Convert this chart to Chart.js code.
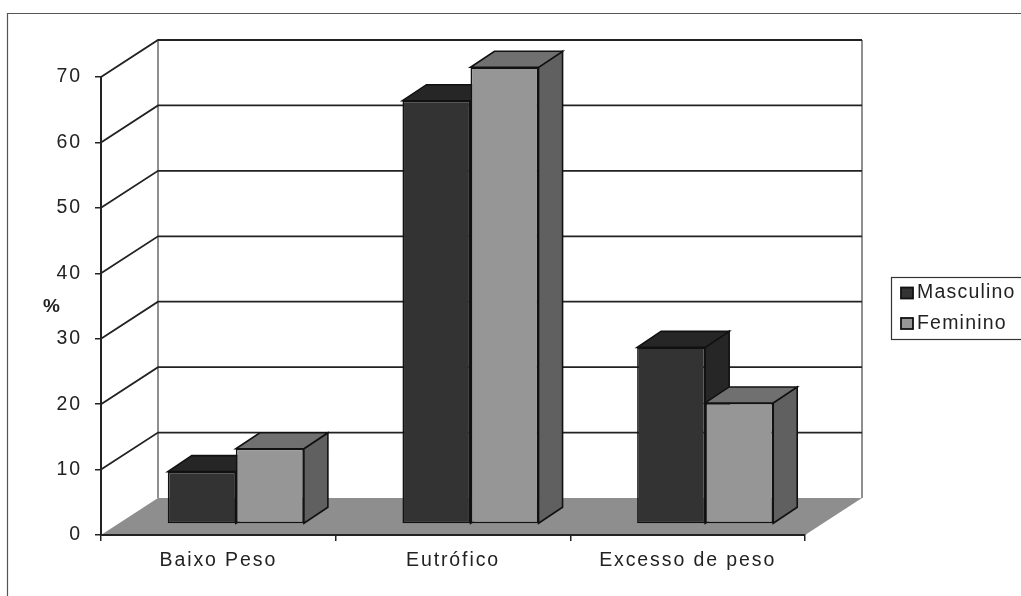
<!DOCTYPE html>
<html>
<head>
<meta charset="utf-8">
<title>Estado nutricional por sexo</title>
<script src="https://cdn.jsdelivr.net/npm/chart.js@4"></script>
<style>
    html, body { margin: 0; padding: 0; background: #fff; overflow: hidden; }
    canvas { display: block; }
</style>
</head>
<body>
<canvas id="nutriChart" width="1021" height="596"></canvas>
<script>
const categories = ['Baixo Peso', 'Eutrófico', 'Excesso de peso'];
const masculino = [8, 64.7, 27];
const feminino = [11.5, 69.8, 18.5];
const yMax = 70;
const yStep = 10;

// Depth of the floor, and where the bars sit on it
const depth = { x: 57, y: -37 };
const barShift = { x: 17.5, y: -11 };
const barDepth = { x: 24, y: -16 };
const FONT = '"Liberation Sans", Arial, sans-serif';

function poly(ctx, pts, fill, stroke, lw) {
    ctx.beginPath();
    pts.forEach((p, i) => i ? ctx.lineTo(p[0], p[1]) : ctx.moveTo(p[0], p[1]));
    ctx.closePath();
    if (fill) { ctx.fillStyle = fill; ctx.fill(); }
    if (stroke) { ctx.strokeStyle = stroke; ctx.lineWidth = lw; ctx.stroke(); }
}

const box3dPlugin = {
    id: 'box3d',
    // Frame, back walls and floor behind the bars
    beforeDraw(chart) {
        const { ctx, chartArea: a, scales } = chart;
        ctx.letterSpacing = '1.9px';
        ctx.save();
        ctx.fillStyle = '#fff';
        ctx.fillRect(0, 0, chart.width, chart.height);

        ctx.strokeStyle = '#555';
        ctx.lineWidth = 1.2;
        ctx.beginPath();
        ctx.moveTo(7.5, chart.height);
        ctx.lineTo(7.5, 13.5);
        ctx.lineTo(chart.width, 13.5);
        ctx.stroke();

        // grey verticals of the back wall
        const backL = a.left + depth.x, backR = a.right + depth.x;
        const backTop = a.top + depth.y, backBot = a.bottom + depth.y;
        ctx.strokeStyle = '#8f8f8f';
        ctx.lineWidth = 2;
        ctx.beginPath();
        ctx.moveTo(backL, backTop); ctx.lineTo(backL, backBot);
        ctx.moveTo(backR, backTop); ctx.lineTo(backR, backBot);
        ctx.stroke();

        poly(ctx, [[a.left, a.bottom], [a.right, a.bottom], [backR, backBot], [backL, backBot]], '#8e8e8e');

        // gridlines run along the left wall, then across the back wall
        ctx.strokeStyle = '#222';
        ctx.lineWidth = 1.8;
        for (let v = yStep; v <= yMax; v += yStep) {
            const y = scales.y.getPixelForValue(v);
            ctx.beginPath();
            ctx.moveTo(a.left, y);
            ctx.lineTo(backL, y + depth.y);
            ctx.lineTo(backR, y + depth.y);
            ctx.stroke();
        }
        ctx.restore();
    },
    // Masculino has to go down first so Feminino overlaps it, so the
    // datasets are drawn here in their sorted order instead of reversed
    beforeDatasetsDraw(chart) {
        const ctx = chart.ctx;
        chart.getSortedVisibleDatasetMetas().forEach(meta => {
            const ds = chart.data.datasets[meta.index];
            ctx.save();
            ctx.translate(barShift.x, barShift.y);
            meta.data.forEach(bar => {
                const l = bar.x - bar.width / 2, r = bar.x + bar.width / 2;
                const dx = barDepth.x, dy = barDepth.y;
                poly(ctx, [[r, bar.base], [r + dx, bar.base + dy], [r + dx, bar.y + dy], [r, bar.y]], ds.sideColor, '#111', 1.6);
                poly(ctx, [[l, bar.y], [r, bar.y], [r + dx, bar.y + dy], [l + dx, bar.y + dy]], ds.topColor, '#111', 1.6);
            });
            meta.controller.draw();
            ctx.restore();
        });
        return false;
    },
    afterDraw(chart) {
        const ctx = chart.ctx;
        ctx.save();

        ctx.fillStyle = '#222';
        ctx.font = 'bold 19px ' + FONT;
        ctx.letterSpacing = '1px';
        ctx.textAlign = 'left';
        ctx.textBaseline = 'middle';
        ctx.fillText('%', 43, 307);

        // legend box
        ctx.strokeStyle = '#333';
        ctx.lineWidth = 1.2;
        ctx.strokeRect(891.5, 277.5, 140, 62);
        ctx.font = '19.5px ' + FONT;
        ctx.letterSpacing = '1.2px';
        const rows = [293, 323.5];
        chart.data.datasets.forEach((ds, i) => {
            ctx.fillStyle = ds.backgroundColor;
            ctx.strokeStyle = '#111';
            ctx.lineWidth = 1.8;
            ctx.fillRect(901, rows[i] - 5.5, 12, 11);
            ctx.strokeRect(901, rows[i] - 5.5, 12, 11);
            ctx.fillStyle = '#222';
            ctx.fillText(ds.label, 917, rows[i]);
        });
        ctx.restore();
    }
};

new Chart(document.getElementById('nutriChart'), {
    type: 'bar',
    data: {
        labels: categories,
        datasets: [
            {
                label: 'Masculino', data: masculino, clip: false,
                backgroundColor: '#333333', topColor: '#262626', sideColor: '#262626',
                borderColor: '#111', borderWidth: 1.6, borderSkipped: false
            },
            {
                label: 'Feminino', data: feminino, clip: false,
                backgroundColor: '#969696', topColor: '#707070', sideColor: '#606060',
                borderColor: '#111', borderWidth: 1.6, borderSkipped: false
            }
        ]
    },
    options: {
        responsive: false,
        animation: false,
        devicePixelRatio: 1,
        categoryPercentage: 0.58,
        barPercentage: 1,
        layout: { padding: { top: 77, right: 216, bottom: 0, left: 0 } },
        plugins: { legend: { display: false }, tooltip: { enabled: false }, title: { display: false } },
        scales: {
            x: {
                afterFit: s => { s.height = 61; },
                grid: { drawOnChartArea: false, tickLength: 6, color: '#222', lineWidth: 1.5 },
                border: { color: '#222', width: 2 },
                ticks: { color: '#222', padding: 8, font: { family: FONT, size: 19.5 }, maxRotation: 0 }
            },
            y: {
                min: 0,
                max: yMax,
                afterFit: s => { s.width = 101; },
                grid: { drawOnChartArea: false, tickLength: 6, color: '#222', lineWidth: 1.5 },
                border: { color: '#222', width: 2 },
                ticks: { stepSize: yStep, color: '#222', padding: 13, font: { family: FONT, size: 19.5 } }
            }
        }
    },
    plugins: [box3dPlugin]
});
</script>
</body>
</html>
